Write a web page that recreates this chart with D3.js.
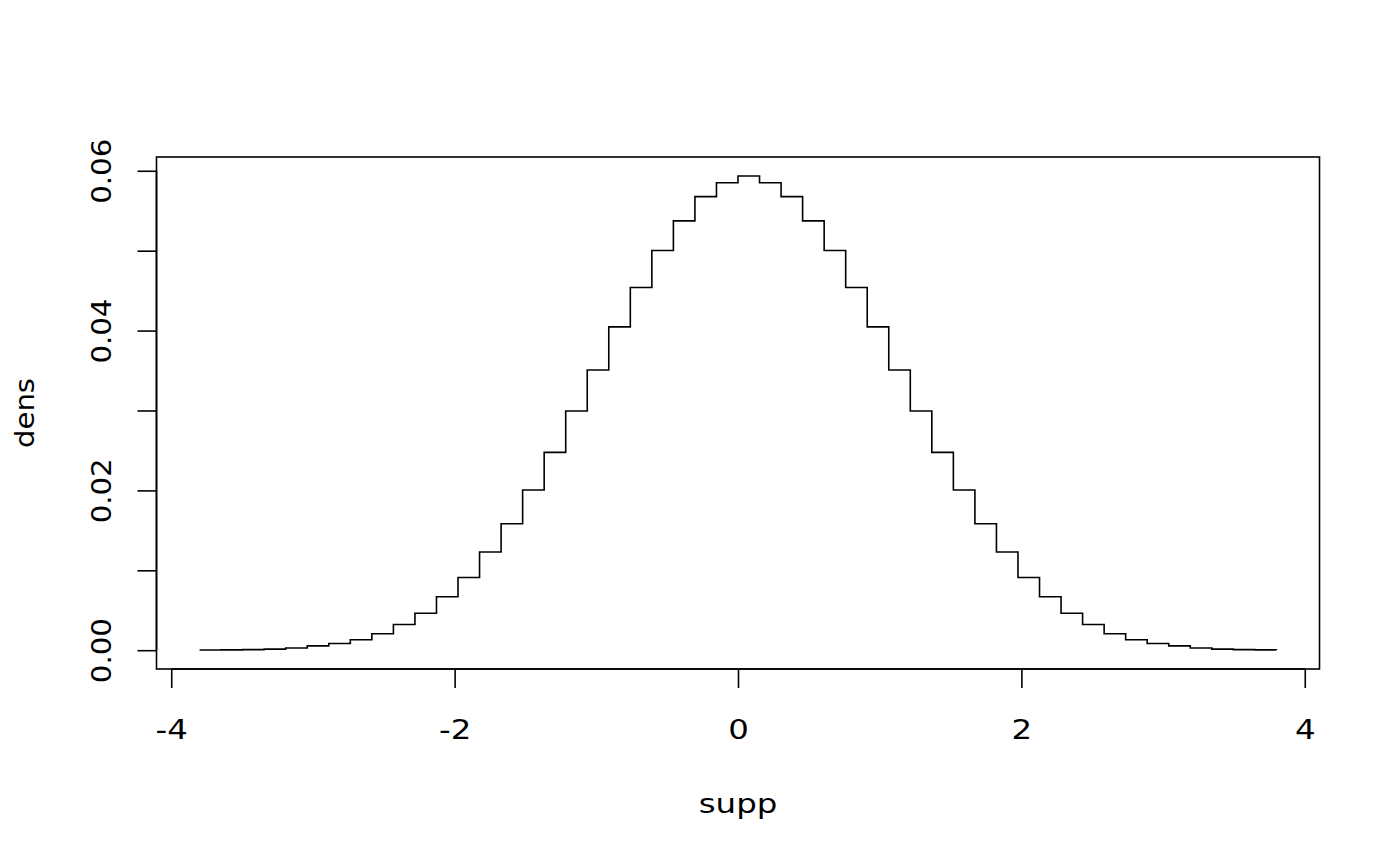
<!DOCTYPE html>
<html>
<head>
<meta charset="utf-8">
<script src="https://cdn.jsdelivr.net/npm/d3@7"></script>
<style>
  body { margin: 0; background: #fff; }
  svg text { font-family: "DejaVu Sans", sans-serif; fill: #000; }
</style>
</head>
<body>
<div id="chart"></div>
<script>
// support points and step densities
let supp = [-3.800, -3.648, -3.496, -3.344, -3.192, -3.040, -2.888, -2.736, -2.584, -2.432,
            -2.280, -2.128, -1.976, -1.824, -1.672, -1.520, -1.368, -1.216, -1.064, -0.912,
            -0.760, -0.608, -0.456, -0.304, -0.152, 0.000, 0.152, 0.304, 0.456, 0.608,
            0.760, 0.912, 1.064, 1.216, 1.368, 1.520, 1.672, 1.824, 1.976, 2.128,
            2.280, 2.432, 2.584, 2.736, 2.888, 3.040, 3.192, 3.344, 3.496, 3.648, 3.800];
let dens = [0.00002, 0.00004, 0.00007, 0.00013, 0.00028, 0.00054, 0.00084, 0.00130, 0.00205, 0.00322,
            0.00463, 0.00668, 0.00909, 0.01229, 0.01583, 0.02004, 0.02476, 0.02994, 0.03507, 0.04046,
            0.04539, 0.05002, 0.05373, 0.05676, 0.05850, 0.05935, 0.05850, 0.05676, 0.05373, 0.05002,
            0.04539, 0.04046, 0.03507, 0.02994, 0.02476, 0.02004, 0.01583, 0.01229, 0.00909, 0.00668,
            0.00463, 0.00322, 0.00205, 0.00130, 0.00084, 0.00054, 0.00028, 0.00013, 0.00007, 0.00004, 0.00002];
let xTicks = [-4, -2, 0, 2, 4];
let yTicks = [0, 0.01, 0.02, 0.03, 0.04, 0.05, 0.06];
let yLabelTicks = [0, 0.02, 0.04, 0.06];

let width = 1400, height = 866;
let plot = {left: 156.5, right: 1319.5, top: 157, bottom: 669};
let lw = 1.6, fontSize = 27;
// the reference glyphs are a bit wider than DejaVu
let hStretch = 1.2, vStretch = 1.08;

let svg = d3.select("#chart")
    .append("svg")
    .attr("width", width)
    .attr("height", height);

// R style 4% padding on both axes
let xPad = (d3.max(supp) - d3.min(supp)) * 0.04;
let yPad = (d3.max(dens) - d3.min(dens)) * 0.04;
let x = d3.scaleLinear()
    .domain([d3.min(supp) - xPad, d3.max(supp) + xPad])
    .range([plot.left, plot.right]);
let y = d3.scaleLinear()
    .domain([d3.min(dens) - yPad, d3.max(dens) + yPad])
    .range([plot.bottom, plot.top]);

let points = supp.map((s, i) => ({s: s, d: dens[i]}));

// the step line (type = "s")
let line = d3.line()
    .curve(d3.curveStepAfter)
    .x(d => x(d.s))
    .y(d => y(d.d));

svg.append("path")
    .datum(points)
    .attr("fill", "none")
    .attr("stroke", "#000")
    .attr("stroke-width", lw)
    .attr("d", line);

// box
svg.append("rect")
    .attr("x", plot.left)
    .attr("y", plot.top)
    .attr("width", plot.right - plot.left)
    .attr("height", plot.bottom - plot.top)
    .attr("fill", "none")
    .attr("stroke", "#000")
    .attr("stroke-width", lw);

// x axis
let xAxis = svg.append("g")
    .attr("transform", `translate(0, ${plot.bottom})`)
    .call(d3.axisBottom(x).tickValues(xTicks).tickSize(19).tickFormat(d3.format("d")));
xAxis.select(".domain").remove();
xAxis.append("line")
    .attr("x1", x(xTicks[0])).attr("x2", x(xTicks[xTicks.length - 1]))
    .attr("stroke", "#000").attr("stroke-width", lw);
xAxis.selectAll(".tick line").attr("stroke", "#000").attr("stroke-width", lw);
xAxis.selectAll(".tick text")
    .attr("y", 70)
    .attr("dy", 0)
    .attr("transform", `scale(${hStretch},1)`)
    .style("font-size", fontSize + "px")
    .style("font-family", "DejaVu Sans")
    .text(d => d < 0 ? "-" + Math.abs(d) : d);

// y axis
let yAxis = svg.append("g")
    .attr("transform", `translate(${plot.left}, 0)`)
    .call(d3.axisLeft(y).tickValues(yTicks).tickSize(19)
        .tickFormat(d => yLabelTicks.some(t => Math.abs(t - d) < 1e-9) ? d3.format(".2f")(d) : ""));
yAxis.select(".domain").remove();
yAxis.append("line")
    .attr("y1", y(yTicks[0])).attr("y2", y(yTicks[yTicks.length - 1]))
    .attr("stroke", "#000").attr("stroke-width", lw);
yAxis.selectAll(".tick line").attr("stroke", "#000").attr("stroke-width", lw);
yAxis.selectAll(".tick text")
    .attr("x", 0)
    .attr("y", -45.5)
    .attr("dy", 0)
    .attr("transform", `rotate(-90) scale(${vStretch},1)`)
    .style("text-anchor", "middle")
    .style("font-size", fontSize + "px")
    .style("font-family", "DejaVu Sans");

// axis titles
svg.append("text")
    .attr("transform", `translate(${(plot.left + plot.right) / 2}, 813) scale(${hStretch},1)`)
    .style("text-anchor", "middle")
    .style("font-size", fontSize + "px")
    .text("supp");

svg.append("text")
    .attr("transform", `translate(34, ${(plot.top + plot.bottom) / 2}) rotate(-90) scale(${vStretch},1)`)
    .style("text-anchor", "middle")
    .style("font-size", fontSize + "px")
    .text("dens");
</script>
</body>
</html>
